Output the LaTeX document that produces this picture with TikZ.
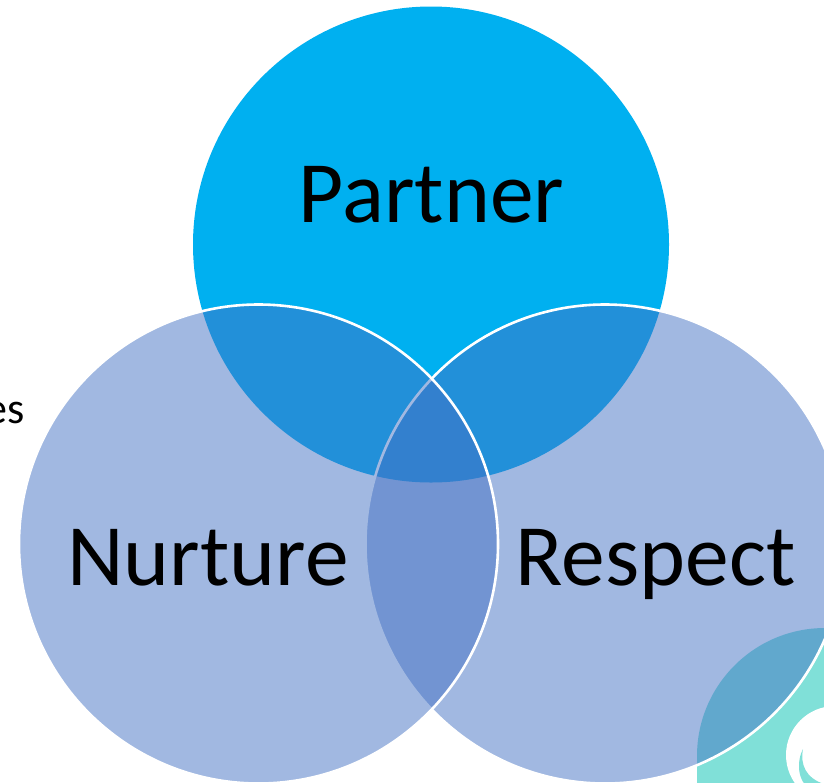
\documentclass[tikz,border=0pt]{standalone}
\usepackage{fontspec}
\setmainfont{Carlito}
\definecolor{topblue}{HTML}{00B0F0}
\definecolor{softblue}{HTML}{4472C4}
\definecolor{tealbg}{HTML}{80E0D8}
\tikzset{
  venn/.style={circle,inner sep=0pt,outer sep=0pt,minimum size=476pt},
  sidecircle/.style={venn,minimum size=479pt,draw=white,line width=2.6pt,fill=softblue,fill opacity=.5,draw opacity=1},
  biglabel/.style={font=\fontsize{87.5}{88}\selectfont,text=black,inner sep=0pt,anchor=base},
}
\begin{document}
\begin{tikzpicture}[x=1pt,y=-1pt]
\useasboundingbox (0,0) rectangle (824,782);
\clip (0,0) rectangle (824,782);
\fill[white] (0,0) rectangle (824,782);
% teal logo behind the circles
\begin{scope}
\clip (697,600) rectangle (830,790);
\fill[tealbg] (825,756) circle[radius=128];
\fill[tealbg] (697,756) rectangle (830,790);
\end{scope}
\fill[white] (835,755) circle[radius=49];
\fill[tealbg] (803,749) .. controls (800,765) and (806,778) .. (824,784) -- (812,790) .. controls (796,782) and (797,760) .. (803,749) -- cycle;
\node[venn,fill=topblue] (partnerc) at (431,244.5) {};
\node[sidecircle] (respectc) at (605,544) {};
\node[sidecircle] (nurturec) at (258.5,544) {};
\node[biglabel] (partner) at (431.5,222) {Partner};
\node[biglabel] (nurture) at (208,585) {Nurture};
\node[biglabel] (respect) at (655.5,585) {Respect};
\node[font=\fontsize{44}{44}\selectfont,inner sep=0pt,anchor=base east] (clipped) at (24.5,423) {es};
\end{tikzpicture}
\end{document}
